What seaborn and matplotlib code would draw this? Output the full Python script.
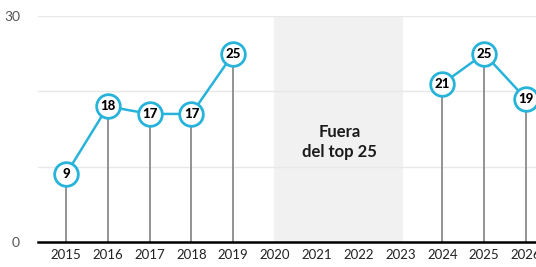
import pandas as pd
import numpy as np
import matplotlib
matplotlib.use("Agg")
import matplotlib.pyplot as plt
import seaborn as sns

# Datos
anios = [2015, 2016, 2017, 2018, 2019, 2024, 2025, 2026]
puestos = [9, 18, 17, 17, 25, 21, 25, 19]
tramo = ["a", "a", "a", "a", "a", "b", "b", "b"]
anios_eje = list(range(2015, 2027))
fuera_inicio, fuera_fin = 2020, 2023
texto_fuera = "Fuera\ndel top 25"

df = pd.DataFrame({"anio": anios, "puesto": puestos, "tramo": tramo})

sns.set_theme(style="white")
plt.rcParams['font.family'] = ['Lato', 'DejaVu Sans']

azul = "#27b3da"

fig = plt.figure(figsize=(5.36, 2.67), dpi=100)
ax = fig.add_axes([38 / 536, 25 / 267, 1 - 38 / 536, 226 / 267])

# zona fuera del top 25
ax.axvspan(fuera_inicio - 0.03, fuera_fin + 0.07, color="#f1f1f1", zorder=0, lw=0)
ax.text((fuera_inicio + fuera_fin) / 2 + 0.05, 13.3, texto_fuera, ha="center", va="center",
        fontsize=12, fontweight="bold", color="#1a1a1a", linespacing=1.3)

# rejilla
for v in [10, 20, 30]:
    ax.axhline(v, color="#e8e8e8", lw=1, zorder=1)

# palitos
ax.vlines(df["anio"], 0, df["puesto"], color="#8a8a8a", lw=1.3, zorder=2)

# lineas
sns.lineplot(data=df, x="anio", y="puesto", units="tramo", estimator=None,
             color=azul, lw=1.8, ax=ax, zorder=3)

# circulos
sns.scatterplot(data=df, x="anio", y="puesto", s=290, color="white",
                edgecolor=azul, linewidth=2.0, ax=ax, zorder=4, clip_on=False)

for x, y in zip(df["anio"], df["puesto"]):
    ax.text(x, y, str(y), ha="center", va="center", fontsize=9.5,
            fontweight="black", color="black", zorder=5)

ax.set_xlim(2014.33, 2026.24)
ax.set_ylim(0, 30)
ax.set_xticks(anios_eje)
ax.set_xticklabels([str(a) for a in anios_eje], fontsize=9.5, color="#222222")
ax.set_yticks([0, 30])
ax.set_yticklabels(["0", "30"], fontsize=10, color="#555555")
ax.tick_params(axis="both", length=0)
ax.tick_params(axis="y", pad=13)
ax.tick_params(axis="x", pad=5)
ax.set_xlabel("")
ax.set_ylabel("")
if ax.get_legend():
    ax.get_legend().remove()

for s in ["top", "right", "left"]:
    ax.spines[s].set_visible(False)
ax.spines["bottom"].set_color("black")
ax.spines["bottom"].set_linewidth(1.8)

fig.savefig("out.png", dpi=100)
